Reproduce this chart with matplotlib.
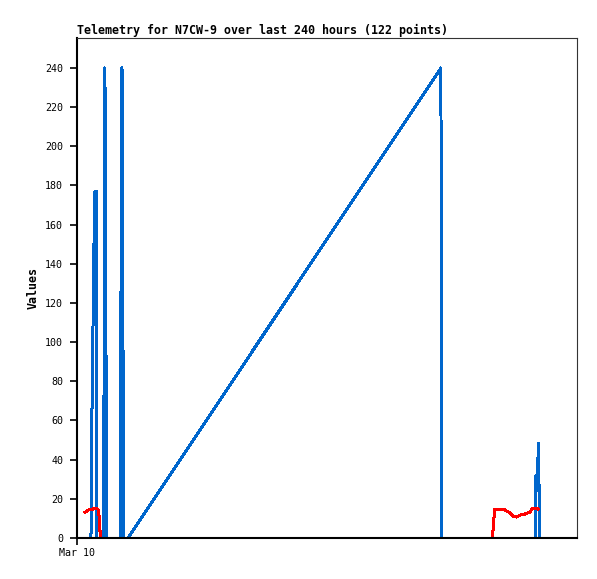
import matplotlib
matplotlib.use("Agg")
import matplotlib.pyplot as plt

# hours since Mar 10 00:00
blue_hours = [6.7, 6.9, 7.2, 7.7, 8.2, 8.6, 9.4, 9.6,
              12.9, 13.0, 13.4, 13.9, 14.0,
              20.8, 20.9, 21.3, 21.6, 21.8, 22.2, 22.3,
              24.5, 174.7, 174.9,
              220.1, 220.3, 220.8, 221.5, 221.8, 222.0]
blue_vals = [0, 22.5, 66, 110, 154, 177, 177, 0,
             0, 120.5, 240, 120.5, 0,
             0, 60, 180, 240, 180, 60, 0,
             0, 240, 0,
             0, 32, 24.5, 48.5, 24, 0]

red_hours = [3.8, 5.3, 6.2, 9.1, 10.2, 10.6, 11.0, 11.4,
             199.2, 199.7, 200.5, 205.4, 207.8, 209.3, 211.2, 212.6, 215.0, 217.4, 218.9, 221.3]
red_vals = [13, 14.3, 14.3, 15.3, 14.5, 11, 4, 0,
            0, 4, 14.8, 14.3, 12.8, 11.2, 10.7, 11.7, 12.2, 13.3, 15.3, 14.8]

black_hours = [3.8, 222.2]
black_vals = [0, 0]

y_ticks = list(range(0, 241, 20))
x_tick_labels = ["Mar 10"]

BLUE = "#0066cc"
RED = "#ff0000"
MONO = "DejaVu Sans Mono"

fig = plt.figure(figsize=(5.97, 5.79), dpi=100)
ax = fig.add_axes([77 / 597, 41 / 579, 500 / 597, 500 / 579])

# gnuplot-like output is not antialiased, so keep the jagged steps
LW = 1.44  # 2 px at 100 dpi
ax.plot(blue_hours, blue_vals, color=BLUE, linewidth=LW, antialiased=False)
ax.plot(red_hours, red_vals, color=RED, linewidth=LW, antialiased=False)
ax.plot(black_hours, black_vals, color="black", linewidth=LW, antialiased=False)

ax.set_xlim(0, 240)
ax.set_ylim(0, 255.3)

ax.set_yticks(y_ticks)
ax.set_yticklabels([str(v) for v in y_ticks], fontfamily=MONO, fontsize=7.2)
ax.set_xticks([0])
ax.set_xticklabels(x_tick_labels, fontfamily=MONO, fontsize=7.2)
ax.tick_params(direction="out", length=5, width=1.2, color="black")
ax.tick_params(axis="y", pad=5)
ax.tick_params(axis="x", pad=2)

for side in ["top", "right"]:
    ax.spines[side].set_linewidth(0.8)
    ax.spines[side].set_color("#333333")
ax.spines["left"].set_linewidth(1.5)
ax.spines["bottom"].set_linewidth(1.5)

ax.set_title("Telemetry for N7CW-9 over last 240 hours (122 points)",
             loc="left", fontfamily=MONO, fontweight="bold", fontsize=8.35, pad=3)
ax.set_ylabel("Values", fontfamily=MONO, fontweight="bold", fontsize=8.35, labelpad=4)

fig.savefig("out.png", dpi=100)
